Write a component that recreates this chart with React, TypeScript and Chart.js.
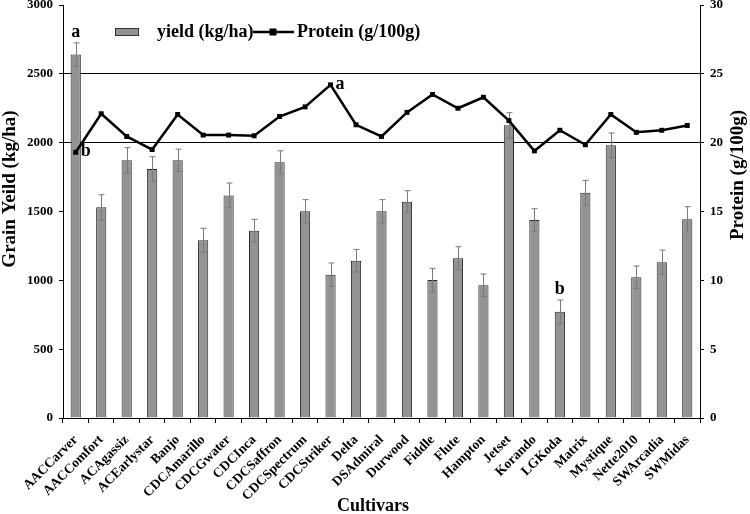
import React, { useEffect, useRef } from "react";
import { Chart, registerables } from "chart.js";

Chart.register(...registerables);

const categories = [
  "AACCarver", "AACComfort", "ACAgassiz", "ACEarlystar", "Banjo", "CDCAmarillo", "CDCGwater",
  "CDCInca", "CDCSaffron", "CDCSpectrum", "CDCStriker", "Delta", "DSAdmiral", "Durwood",
  "Fiddle", "Flute", "Hampton", "Jetset", "Korando", "LGKoda", "Matrix", "Mystique",
  "Nette2010", "SWArcadia", "SWMidas",
];
const yieldValues = [2640, 1530, 1872, 1809, 1872, 1291, 1617, 1361, 1857, 1501, 1041, 1143, 1501, 1571, 1002, 1160, 964, 2126, 1438, 772, 1636, 1981, 1022, 1131, 1443];
const yieldErr = [85, 92, 92, 89, 81, 87, 90, 82, 84, 85, 85, 82, 85, 80, 85, 84, 82, 92, 82, 85, 90, 89, 82, 89, 92];
const protein = [19.3, 22.1, 20.45, 19.5, 22.05, 20.55, 20.55, 20.5, 21.9, 22.6, 24.2, 21.3, 20.45, 22.2, 23.5, 22.5, 23.3, 21.6, 19.4, 20.9, 19.85, 22.05, 20.75, 20.9, 21.25];
const yieldTicks = { min: 0, max: 3000, step: 500 };
const proteinTicks = { min: 0, max: 30, step: 5 };
const gridValues = [2000, 2500];
const letters = [
  { series: "yield", index: 0, text: "a" },
  { series: "protein", index: 0, text: "b" },
  { series: "protein", index: 10, text: "a" },
  { series: "yield", index: 19, text: "b" },
];

const SERIF = "'Liberation Serif', 'Times New Roman', serif";

export default function App() {
  const ref = useRef<HTMLCanvasElement | null>(null);

  useEffect(() => {
    document.body.style.margin = "0";
    const canvas = ref.current;
    if (!canvas) return;

    const errorBars = {
      id: "errorBars",
      afterDatasetDraw(chart: any, args: any) {
        if (args.index !== 1) return;
        const ctx = chart.ctx;
        const y = chart.scales.y;
        const meta = chart.getDatasetMeta(1);
        ctx.save();
        ctx.strokeStyle = "#7a7a7a";
        ctx.lineWidth = 1;
        meta.data.forEach((bar: any, i: number) => {
          const x = Math.round(bar.x) + 0.5;
          const top = y.getPixelForValue(yieldValues[i] + yieldErr[i]);
          const bot = y.getPixelForValue(yieldValues[i] - yieldErr[i]);
          ctx.beginPath();
          ctx.moveTo(x, top);
          ctx.lineTo(x, bot);
          ctx.moveTo(x - 3, top);
          ctx.lineTo(x + 3, top);
          ctx.moveTo(x - 3, bot);
          ctx.lineTo(x + 3, bot);
          ctx.stroke();
        });
        ctx.restore();
      },
    };

    const decorations = {
      id: "decorations",
      afterDraw(chart: any) {
        const ctx = chart.ctx;
        const xs = chart.scales.x;
        const ys = chart.scales.y;
        const y1 = chart.scales.y1;
        ctx.save();
        ctx.fillStyle = "#000";
        ctx.textAlign = "center";
        ctx.textBaseline = "middle";
        // axis titles
        ctx.font = `bold 19px ${SERIF}`;
        ctx.save();
        ctx.translate(10, 189);
        ctx.rotate(-Math.PI / 2);
        ctx.fillText("Grain Yeild (kg/ha)", 0, 0);
        ctx.restore();
        ctx.save();
        const rw = ctx.measureText("Protein (g/100g)").width;
        ctx.translate(738, 110 + rw / 2);
        ctx.rotate(-Math.PI / 2);
        ctx.fillText("Protein (g/100g)", 0, 0);
        ctx.restore();
        ctx.font = `bold 18px ${SERIF}`;
        ctx.fillText("Cultivars", 373, 506);

        // legend
        ctx.font = `bold 18px ${SERIF}`;
        ctx.textAlign = "left";
        const ly = 32;
        ctx.fillStyle = "#939393";
        ctx.fillRect(115, ly - 4, 23, 8);
        ctx.strokeStyle = "#333";
        ctx.lineWidth = 1;
        ctx.strokeRect(115.5, ly - 3.5, 23, 7);
        ctx.fillStyle = "#000";
        ctx.fillText("yield (kg/ha)", 157, ly);
        ctx.strokeStyle = "#000";
        ctx.lineWidth = 2.5;
        ctx.beginPath();
        ctx.moveTo(253, ly);
        ctx.lineTo(294, ly);
        ctx.stroke();
        ctx.fillRect(269.5, ly - 3.5, 7, 7);
        ctx.fillText("Protein (g/100g)", 297, ly);

        // significance letters
        ctx.font = `bold 18px ${SERIF}`;
        letters.forEach((l) => {
          const x = xs.getPixelForValue(l.index);
          if (l.series === "yield") {
            const yy = ys.getPixelForValue(yieldValues[l.index] + yieldErr[l.index]) - 11;
            ctx.textAlign = "center";
            ctx.fillText(l.text, x, yy);
          } else {
            const yy = y1.getPixelForValue(protein[l.index]);
            ctx.textAlign = "left";
            ctx.fillText(l.text, x + 5, yy - 1);
          }
        });
        ctx.restore();
      },
    };

    const tickFont = { family: SERIF, size: 13, weight: "bold" as const };
    const plain = (v: any) => String(v);

    const chart = new Chart(canvas, {
      type: "bar",
      data: {
        labels: categories,
        datasets: [
          {
            type: "line",
            label: "Protein (g/100g)",
            data: protein,
            yAxisID: "y1",
            borderColor: "#000",
            backgroundColor: "#000",
            borderWidth: 2.5,
            pointStyle: "rect",
            pointRadius: 3.5,
            pointBorderWidth: 0,
            tension: 0,
            order: 0,
          } as any,
          {
            type: "bar",
            label: "yield (kg/ha)",
            data: yieldValues,
            yAxisID: "y",
            backgroundColor: "#939393",
            borderColor: "#2a2a2a",
            borderWidth: 1,
            barPercentage: 0.4,
            categoryPercentage: 1,
            order: 1,
          },
        ],
      },
      options: {
        animation: false,
        responsive: false,
        maintainAspectRatio: false,
        layout: { padding: { top: 5, left: 0, right: 0, bottom: 0 } },
        plugins: { legend: { display: false }, tooltip: { enabled: false } },
        scales: {
          x: {
            offset: true,
            grid: { offset: true, drawOnChartArea: false, tickLength: 5, color: "#000", tickColor: "#000" },
            border: { color: "#000", width: 1 },
            ticks: { font: { ...tickFont, size: 13.5 }, color: "#000", minRotation: 45, maxRotation: 45, autoSkip: false, padding: 9 },
            afterFit: (s: any) => {
              s.height = 96;
              s.paddingLeft = 0;
              s.paddingRight = 0;
            },
          },
          y: {
            position: "left",
            min: yieldTicks.min,
            max: yieldTicks.max,
            ticks: { stepSize: yieldTicks.step, font: tickFont, color: "#000", padding: 6, callback: plain },
            grid: {
              color: (c: any) => (c.tick && gridValues.includes(c.tick.value) ? "#000" : "rgba(0,0,0,0)"),
              tickColor: "#000",
              tickLength: 4,
              lineWidth: 1,
            },
            border: { color: "#000", width: 1 },
            afterFit: (s: any) => {
              s.width = 63;
              s.paddingTop = 0;
              s.paddingBottom = 0;
            },
          },
          y1: {
            position: "right",
            min: proteinTicks.min,
            max: proteinTicks.max,
            ticks: { stepSize: proteinTicks.step, font: tickFont, color: "#000", padding: 6, callback: plain },
            grid: { drawOnChartArea: false, tickColor: "#000", tickLength: 4, color: "#000" },
            border: { color: "#000", width: 1 },
            afterFit: (s: any) => {
              s.width = 50;
              s.paddingTop = 0;
              s.paddingBottom = 0;
            },
          },
        },
      } as any,
      plugins: [errorBars, decorations],
    });
    return () => chart.destroy();
  }, []);

  return (
    <div style={{ position: "fixed", left: 0, top: 0, width: 750, height: 514, background: "#fff" }}>
      <canvas ref={ref} width={750} height={514} style={{ width: 750, height: 514, display: "block" }} />
    </div>
  );
}
